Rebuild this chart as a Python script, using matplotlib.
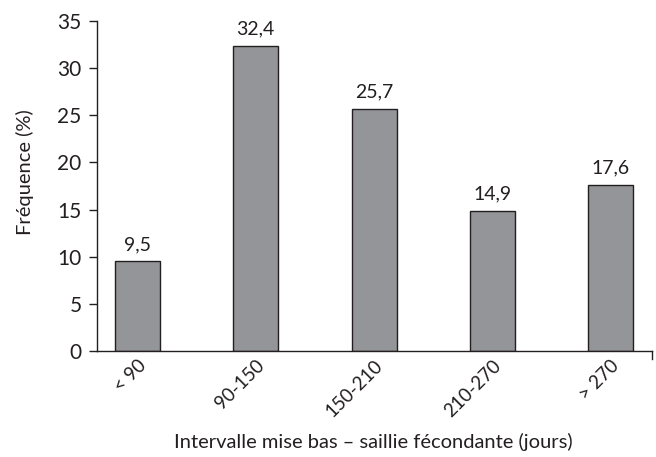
import matplotlib
matplotlib.use("Agg")
import matplotlib.pyplot as plt
from matplotlib.transforms import ScaledTranslation

categories = ["< 90", "90-150", "150-210", "210-270", "> 270"]
values = [9.5, 32.4, 25.7, 14.9, 17.6]
value_labels = ["9,5", "32,4", "25,7", "14,9", "17,6"]
yticks = [0, 5, 10, 15, 20, 25, 30, 35]

plt.rcParams["font.family"] = ["Lato", "DejaVu Sans"]
ink = "#231f20"

fig = plt.figure(figsize=(6.56, 4.57), dpi=100)
ax = fig.add_axes([97 / 656, 1 - 351 / 457, (652 - 97) / 656, 330 / 457])

x = list(range(len(categories)))
ax.bar(x, values, width=0.38, color="#939598", edgecolor=ink, linewidth=1.0)
for xi, v, lab in zip(x, values, value_labels):
    ax.text(xi, v + 0.9, lab, ha="center", va="bottom", fontsize=14, color=ink)

ax.set_xlim(-0.342, 4.35)
ax.set_ylim(0, 35)
ax.set_yticks(yticks)
ax.set_yticklabels([str(t) for t in yticks], fontsize=15, color=ink)
ax.set_xticks(x)
ax.set_xticklabels(categories, rotation=45, ha="right", va="top",
                   rotation_mode="anchor", fontsize=13.5, color=ink)
shift = ScaledTranslation(0.28, 0, fig.dpi_scale_trans)
for lbl in ax.get_xticklabels():
    lbl.set_transform(lbl.get_transform() + shift)
ax.tick_params(axis="x", length=0, pad=4)
ax.tick_params(axis="y", length=6, width=1, color=ink, pad=5)

for side in ("top", "right"):
    ax.spines[side].set_visible(False)
for side in ("left", "bottom"):
    ax.spines[side].set_color(ink)
    ax.spines[side].set_linewidth(1.0)

# small closing tick at the right end of the category axis
ax.plot([1, 1], [0, -0.025], transform=ax.transAxes, color=ink,
        linewidth=1.0, clip_on=False)

fig.text(25 / 656, 1 - 172 / 457, "Fréquence (%)", rotation=90,
         ha="center", va="center", fontsize=14.5, color=ink)
fig.text(373 / 656, 1 - 442 / 457, "Intervalle mise bas – saillie fécondante (jours)",
         ha="center", va="center", fontsize=14.5, color=ink)

fig.savefig("out.png", dpi=100)
